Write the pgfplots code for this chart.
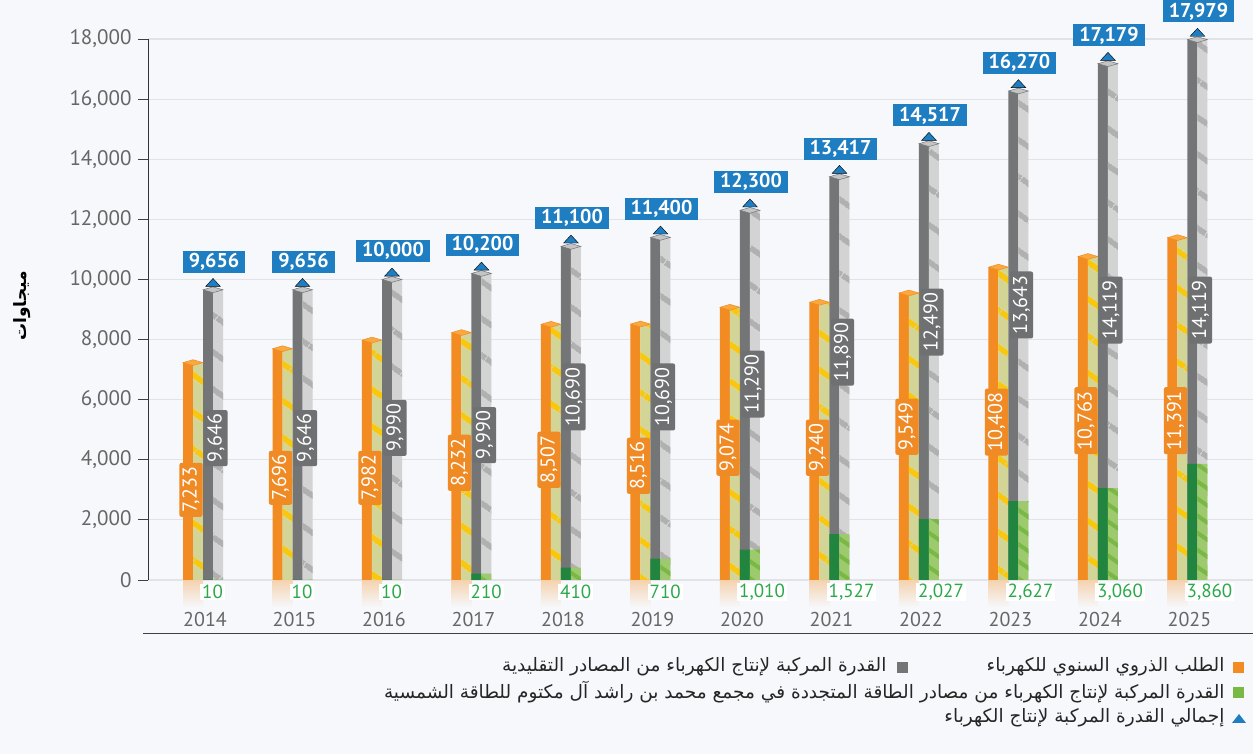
\documentclass[border=0pt]{standalone}
\usepackage{fontspec}
\setmainfont{PT Sans}
\newfontfamily\arabicfont[Script=Arabic]{DejaVu Sans}
\TeXXeTstate=1
\usepackage{pgfplots}
\pgfplotsset{compat=1.18}
\usepackage{pgfplotstable}
\usetikzlibrary{patterns.meta,shapes.geometric}

\definecolor{bg}{HTML}{F6F8FB}
\definecolor{orf}{HTML}{F28C22}
\definecolor{ors}{HTML}{D3D597}
\definecolor{ory}{HTML}{F9C80E}
\definecolor{orc}{HTML}{F9A93F}
\definecolor{grf}{HTML}{737576}
\definecolor{grs}{HTML}{D3D3D3}
\definecolor{grb}{HTML}{B0B0B0}
\definecolor{grc}{HTML}{C4C4C4}
\definecolor{gnf}{HTML}{21843F}
\definecolor{gns}{HTML}{9DCA6C}
\definecolor{gnb}{HTML}{7AB845}
\definecolor{bl}{HTML}{1F7EC1}
\definecolor{glab}{HTML}{2AA84A}
\definecolor{tickc}{HTML}{666666}
\definecolor{gridc}{HTML}{E1E3E6}
\definecolor{orlab}{HTML}{F08A24}
\definecolor{grlab}{HTML}{6E7072}

\pgfplotstableread{
x dem conv ren tot dempos convpos
0 7233 9646 10 9656 3000 4720
1 7696 9646 10 9656 3400 4720
2 7982 9990 10 10000 3400 5060
3 8232 9990 210 10200 3900 4820
4 8507 10690 410 11100 4000 6090
5 8516 10690 710 11400 3800 6090
6 9074 11290 1010 12300 4400 6520
7 9240 11890 1527 13417 4400 7580
8 9549 12490 2027 14517 5100 8580
9 10408 13643 2627 16270 5250 9150
10 10763 14119 3060 17179 5300 8980
11 11391 14119 3860 17979 5300 8980
}\data

\newcommand{\numfmt}{\pgfmathprintnumber[fixed,precision=0,1000 sep={,}]{\pgfplotspointmeta}}
\newcommand{\legfont}{\arabicfont\fontsize{18.5}{18.5}\selectfont}

\begin{document}
\begin{tikzpicture}
\fill[bg] (0,0) rectangle (1253pt,754pt);
\begin{axis}[
  at={(148pt,174pt)}, anchor=south west,
  scale only axis, width=1105pt, height=541pt,
  xmin=-0.637, xmax=11.71, ymin=0, ymax=18000,
  clip=false,
  axis x line=bottom, axis y line=left,
  x axis line style={draw=none},
  y axis line style={draw=black!80, line width=1pt, -},
  xtick=\empty,
  minor xtick={0.5,1.5,...,10.5},
  minor tick length=4pt,
  minor tick style={black!75, line width=0.8pt},
  tick align=outside,
  major tick length=10pt,
  extra x ticks={0,1,...,11},
  extra x tick labels={2014,2015,2016,2017,2018,2019,2020,2021,2022,2023,2024,2025},
  extra x tick style={major tick length=0pt, tick style={draw=none},
     xticklabel style={font=\fontsize{20}{20}\selectfont, text=tickc, yshift=-29pt}},
  ytick={0,2000,...,18000},
  y tick style={black!75, line width=0.8pt},
  ymajorgrids, grid style={gridc, line width=1.2pt},
  yticklabel style={font=\fontsize{21}{21}\selectfont, text=tickc, xshift=-3pt},
  scaled y ticks=false,
  /pgf/number format/assume math mode=true,
  /pgf/number format/1000 sep={,},
]
% faded reflection under the demand bars
\addplot[draw=none, mark=none, nodes near coords={},
  nodes near coords style={xshift=-12pt, anchor=north, inner sep=0pt, minimum width=20pt,
    minimum height=27pt, top color=orf!35!bg, bottom color=bg, draw=none}]
  table[x=x,y expr=0]{\data};
% orange bars (demand)
\addplot[ybar, bar width=10pt, bar shift=-17pt, fill=orf, draw=none] table[x=x,y=dem]{\data};
\addplot[ybar, bar width=10pt, bar shift=-7pt, fill=ors, draw=none,
  postaction={pattern={Lines[angle=-35,distance=30pt,line width=6pt]}, pattern color=ory}] table[x=x,y=dem]{\data};
% gray bars (total, conventional on top of renewable)
\addplot[ybar, bar width=10pt, bar shift=3pt, fill=grf, draw=none] table[x=x,y=tot]{\data};
\addplot[ybar, bar width=10pt, bar shift=13pt, fill=grs, draw=none,
  postaction={pattern={Lines[angle=-35,distance=30pt,line width=6pt]}, pattern color=grb}] table[x=x,y=tot]{\data};
% green bars (renewable)
\addplot[ybar, bar width=10pt, bar shift=3pt, fill=gnf, draw=none] table[x=x,y=ren]{\data};
\addplot[ybar, bar width=10pt, bar shift=13pt, fill=gns, draw=none,
  postaction={pattern={Lines[angle=-35,distance=14pt,line width=4pt]}, pattern color=gnb}] table[x=x,y=ren]{\data};
% caps
\addplot[draw=none, mark=none, nodes near coords={},
  nodes near coords style={xshift=-12pt, anchor=center, diamond, inner sep=0pt,
    minimum width=20pt, minimum height=6pt, fill=orc, draw=orf, line width=0.5pt}]
  table[x=x,y=dem]{\data};
\addplot[draw=none, mark=none, nodes near coords={},
  nodes near coords style={xshift=8pt, anchor=center, diamond, inner sep=0pt,
    minimum width=20pt, minimum height=6pt, fill=grc, draw=grf, line width=0.5pt}]
  table[x=x,y=tot]{\data};
% total markers
\addplot[only marks, mark=triangle*, mark size=5.3pt,
  mark options={fill=bl, draw=none, xshift=8pt, yshift=6pt, xscale=1.6}]
  table[x=x,y=tot]{\data};
% total labels
\addplot[draw=none, mark=none, point meta=\thisrow{tot}, nodes near coords={\numfmt},
  nodes near coords style={anchor=south, xshift=9pt, yshift=17pt, fill=bl, text=white,
    font=\bfseries\fontsize{20}{20}\selectfont, minimum height=22pt, inner xsep=6pt, inner ysep=0pt}]
  table[x=x,y=tot]{\data};
% demand labels
\addplot[draw=none, mark=none, point meta=\thisrow{dem}, nodes near coords={\numfmt},
  nodes near coords style={xshift=-14pt, anchor=center, rotate=90, fill=orlab, text=white, rounded corners=2pt,
    font=\fontsize{20}{20}\selectfont, inner xsep=4pt, inner ysep=3pt}]
  table[x=x,y=dempos]{\data};
% conventional labels
\addplot[draw=none, mark=none, point meta=\thisrow{conv}, nodes near coords={\numfmt},
  nodes near coords style={xshift=11pt, anchor=center, rotate=90, fill=grlab, text=white, rounded corners=2pt,
    font=\fontsize{20}{20}\selectfont, inner xsep=4pt, inner ysep=3pt}]
  table[x=x,y=convpos]{\data};
% renewable labels
\addplot[draw=none, mark=none, point meta=\thisrow{ren}, nodes near coords={\numfmt},
  nodes near coords style={anchor=west, xshift=-5pt, yshift=-12pt, fill=white, text=glab,
    font=\fontsize{19}{19}\selectfont, inner xsep=2pt, inner ysep=1pt}]
  table[x=x,y expr=0]{\data};
\draw[black!75, line width=0.8pt] (axis cs:-0.69,-1763) -- (axis cs:11.71,-1763);
\end{axis}
% y label
\node[rotate=90, font=\arabicfont\bfseries\fontsize{17}{17}\selectfont] at (22pt,448pt) {\beginR ميجاوات\endR};
% legend
\fill[orf] (1233pt,81pt) rectangle ++(11pt,11pt);
\node[anchor=east, font=\legfont, text=black!85] at (1228pt,87pt) {\beginR الطلب الذروي السنوي للكهرباء\endR};
\fill[grf] (897pt,81pt) rectangle ++(11pt,11pt);
\node[anchor=east, font=\legfont, text=black!85] at (890pt,87pt) {\beginR القدرة المركبة لإنتاج الكهرباء من المصادر التقليدية\endR};
\fill[gnb] (1233pt,56pt) rectangle ++(11pt,11pt);
\node[anchor=east, font=\legfont, text=black!85] at (1228pt,62pt) {\beginR القدرة المركبة لإنتاج الكهرباء من مصادر الطاقة المتجددة في مجمع محمد بن راشد آل مكتوم للطاقة الشمسية\endR};
\fill[bl] (1232pt,31pt) -- (1246pt,31pt) -- (1239pt,40pt) -- cycle;
\node[anchor=east, font=\legfont, text=black!85] at (1228pt,36pt) {\beginR إجمالي القدرة المركبة لإنتاج الكهرباء\endR};
\pgfresetboundingbox
\useasboundingbox (0,0) rectangle (1253pt,754pt);
\end{tikzpicture}
\end{document}
